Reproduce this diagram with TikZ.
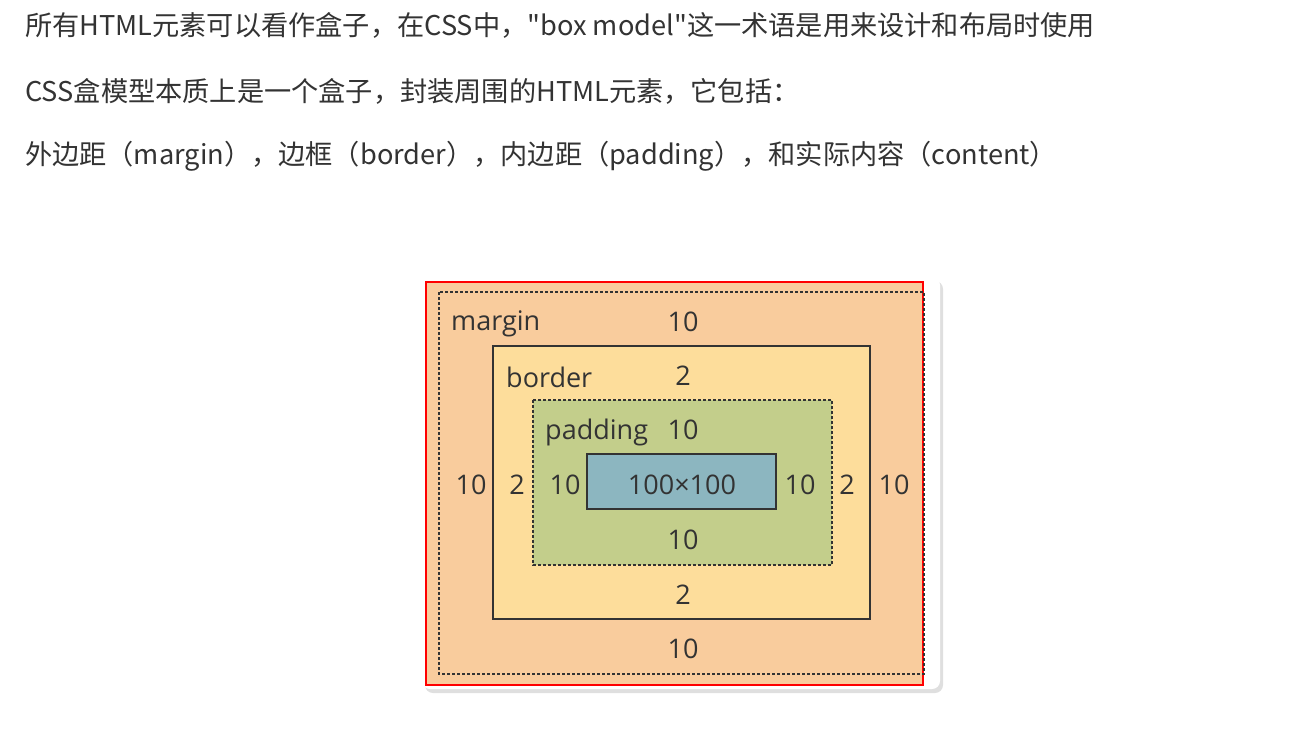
\documentclass[tikz,border=0pt]{standalone}
\usepackage{fontspec}
\setmainfont{Open Sans}
\newfontfamily\cjk{Noto Sans CJK SC}
\usetikzlibrary{shadows}

\definecolor{txt}{HTML}{333333}
\definecolor{marginc}{HTML}{F9CC9D}
\definecolor{borderc}{HTML}{FDDD9B}
\definecolor{paddingc}{HTML}{C3CE8B}
\definecolor{contentc}{HTML}{8CB6C0}

\begin{document}
\begin{tikzpicture}[x=1pt,y=-1pt,
    every node/.style={inner sep=0pt, text=txt},
    line/.style={anchor=west, font=\cjk\fontsize{27.2}{32}\selectfont},
    lbl/.style={font=\fontsize{27}{32}\selectfont},
    dashbox/.style={draw=txt, line width=1.1pt, dash pattern=on 3pt off 2pt}]
    \useasboundingbox (0,0) rectangle (1307,748);
    \fill[white] (0,0) rectangle (1307,748);

    \node[line] (l1) at (25,25) {所有HTML元素可以看作盒子，在CSS中，"box model"这一术语是用来设计和布局时使用};
    \node[line] (l2) at (25,91) {CSS盒模型本质上是一个盒子，封装周围的HTML元素，它包括：};
    \node[line] (l3) at (25,156) {外边距（margin），边框（border），内边距（padding），和实际内容（content）};

    \fill[white, rounded corners=8pt, drop shadow={opacity=0.25, shadow xshift=3pt, shadow yshift=-4pt}] (422,277) rectangle (940,689);
    \fill[marginc] (427,283) rectangle (923,684);
    \draw[red, line width=1.4pt] (426,282) rectangle (923,685);
    \draw[dashbox] (439,292) rectangle (924,674);
    \draw[txt, fill=borderc, line width=1.3pt] (493,346) rectangle (870,619);
    \draw[dashbox, fill=paddingc] (533,400) rectangle (832,565);
    \draw[txt, fill=contentc, line width=1.3pt] (587,454) rectangle (776,509);

    \node[lbl, anchor=west] (margin) at (451,324) {margin};
    \node[lbl] (mtop) at (683,322) {10};
    \node[lbl, anchor=west] (border) at (506,377) {border};
    \node[lbl] (btop) at (683,376) {2};
    \node[lbl, anchor=west] (padding) at (545,432) {padding};
    \node[lbl] (ptop) at (683,430) {10};

    \node[lbl] (mleft) at (471,485) {10};
    \node[lbl] (bleft) at (517,485) {2};
    \node[lbl] (pleft) at (565,485) {10};
    \node[lbl] (content) at (682,485) {100×100};
    \node[lbl] (pright) at (800,485) {10};
    \node[lbl] (bright) at (847,485) {2};
    \node[lbl] (mright) at (894,485) {10};

    \node[lbl] (pbot) at (683,540) {10};
    \node[lbl] (bbot) at (683,595) {2};
    \node[lbl] (mbot) at (683,649) {10};
\end{tikzpicture}
\end{document}
